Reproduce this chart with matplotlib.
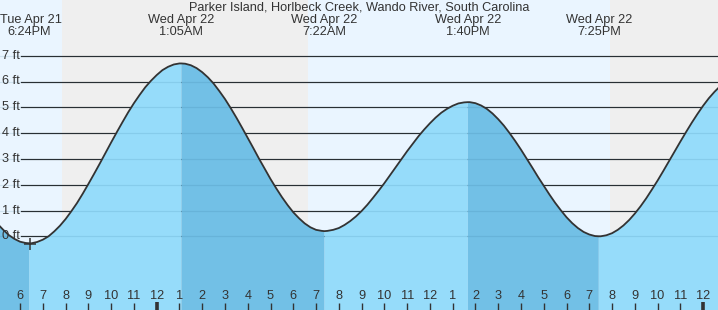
import matplotlib
matplotlib.use("Agg")
import matplotlib.pyplot as plt
import numpy as np

##~~~~~~~~~~~~~~~~~~~~~~~~~~~~~~~~~~~~~~~~~~~~~~~##
#                     DATA                        #
##~~~~~~~~~~~~~~~~~~~~~~~~~~~~~~~~~~~~~~~~~~~~~~~##

title = "Parker Island, Horlbeck Creek, Wando River, South Carolina"

# readings every 15 min, hours counted from Wed Apr 22 00:00 (-7.0 -> 25.0)
reading_times = np.arange(-7.0, 25.01, 0.25)
reading_ft = [
    0.49, 0.26, 0.05, -0.10, -0.21, -0.26, -0.27, -0.22,   # -7 .. -5
    -0.13, 0.00, 0.19, 0.41, 0.67, 0.97, 1.29, 1.65,       # -5 .. -3
    2.03, 2.42, 2.82, 3.23, 3.64, 4.04, 4.43, 4.81,        # -3 .. -1
    5.16, 5.48, 5.78, 6.03, 6.25, 6.44, 6.57, 6.66,        # -1 .. 1
    6.70, 6.69, 6.63, 6.52, 6.36, 6.16, 5.92, 5.63,        # 1 .. 3
    5.32, 4.97, 4.60, 4.21, 3.81, 3.41, 3.00, 2.61,        # 3 .. 5
    2.22, 1.86, 1.52, 1.21, 0.93, 0.70, 0.50, 0.35,        # 5 .. 7
    0.25, 0.21, 0.21, 0.25, 0.32, 0.44, 0.59, 0.77,        # 7 .. 9
    0.98, 1.22, 1.49, 1.77, 2.06, 2.37, 2.68, 2.99,        # 9 .. 11
    3.30, 3.59, 3.88, 4.14, 4.38, 4.60, 4.79, 4.94,        # 11 .. 13
    5.06, 5.15, 5.19, 5.20, 5.16, 5.07, 4.94, 4.76,        # 13 .. 15
    4.54, 4.29, 4.00, 3.69, 3.36, 3.01, 2.66, 2.30,        # 15 .. 17
    1.96, 1.62, 1.30, 1.01, 0.74, 0.51, 0.32, 0.17,        # 17 .. 19
    0.07, 0.01, 0.00, 0.04, 0.12, 0.25, 0.42, 0.63,        # 19 .. 21
    0.88, 1.16, 1.47, 1.81, 2.16, 2.53, 2.91, 3.29,        # 21 .. 23
    3.67, 4.04, 4.40, 4.74, 5.06, 5.35, 5.60, 5.82,        # 23 .. 25
    6.01,
]

# high / low tides
event_times = [-5.6, 1.083, 7.367, 13.667, 19.417]
event_heights = [-0.27, 6.7, 0.2, 5.2, 0.0]
event_days = ["Tue Apr 21", "Wed Apr 22", "Wed Apr 22", "Wed Apr 22", "Wed Apr 22"]
event_clock = ["6:24PM", "1:05AM", "7:22AM", "1:40PM", "7:25PM"]

# falling tide spans (high -> low)
falling = [(-11.92, -5.6), (1.083, 7.367), (13.667, 19.417)]

# night (sunset -> sunrise)
nights = [(-4.16, 6.63), (19.90, 30.0)]

ft_levels = [0, 1, 2, 3, 4, 5, 6, 7]
hour_ticks = list(range(-6, 25))

###~~~~~~~~~~~~~~~###
#       PLOT        #
###~~~~~~~~~~~~~~~###

plt.rcParams['font.family'] = ['Liberation Sans', 'DejaVu Sans']
txt = '#333333'
fs = 9.2

fig = plt.figure(figsize=(7.18, 3.10), dpi=100)
ax = fig.add_axes([0, 0, 1, 1])

pxh = 22.767                      # px per hour
x0 = -156.7 / pxh
x1 = (718 - 156.7) / pxh
pxf = 25.8                        # px per ft
y1 = 236.3 / pxf
y0 = (236.3 - 310) / pxf
ax.set_xlim(x0, x1)
ax.set_ylim(y0, y1)
ax.axis('off')

# day / night background
ax.axvspan(x0, x1, color='#EAF5FF', zorder=0)
for a, b in nights:
    ax.axvspan(a, b, color='#EFEFEF', zorder=0.5, lw=0)

# grid lines
for lv in ft_levels:
    ax.axhline(lv, xmin=21 / 718, xmax=1, color='#2a2a2a', lw=0.85, zorder=1)
    ax.text(19.5 / 718, lv, f"{lv} ft", transform=ax.get_yaxis_transform(),
            ha='right', va='center', fontsize=fs, color=txt, zorder=3.5)

# curve = readings + tide extremes, sorted by time
t = np.concatenate([reading_times, event_times])
h = np.concatenate([reading_ft, event_heights])
order = np.argsort(t, kind='stable')
t, h = t[order], h[order]

fall = np.zeros(len(t), dtype=bool)
for a, b in falling:
    fall |= (t >= a) & (t <= b)
rise = ~fall
for a, b in falling:
    rise |= np.isclose(t, a) | np.isclose(t, b)

ax.fill_between(t, h, y0, where=rise, color='#96DCFA', lw=0, zorder=2)
ax.fill_between(t, h, y0, where=fall, color='#72C0E6', lw=0, zorder=2)

# grid lines seen through the water
for lv in ft_levels:
    ax.axhline(lv, xmin=0, xmax=1, color='#1a5a80', alpha=0.12, lw=0.85, zorder=3)

ax.plot(t, h, color='#333333', lw=1.3, zorder=4, solid_joinstyle='round')

# marker at first low
ax.plot(event_times[0] + 0.05, event_heights[0] - 0.03, marker='+', ms=9, mew=1.1,
        color='#333333', zorder=5)

# title and tide labels
ax.text(0.5, 1 - 7.5 / 310, title, transform=ax.transAxes, ha='center', va='center',
        fontsize=fs, color=txt, zorder=6)
tr = ax.get_xaxis_transform()
labels = []
for et, d, c in zip(event_times, event_days, event_clock):
    labels.append(ax.text(et, 1 - 20 / 310, d, transform=tr, ha='center', va='center',
                          fontsize=fs, color=txt, zorder=6))
    labels.append(ax.text(et, 1 - 32 / 310, c, transform=tr, ha='center', va='center',
                          fontsize=fs, color=txt, zorder=6))

# keep the tide labels inside the picture
fig.canvas.draw()
rend = fig.canvas.get_renderer()
for lab in labels:
    bb = lab.get_window_extent(rend)
    if bb.x0 < 0:
        xd = ax.transData.inverted().transform((bb.width / 2 + 0.5, 0))[0]
        lab.set_x(xd)

# hour ticks along the bottom
for hr in hour_ticks:
    lab = (hr % 12) or 12
    ax.text(hr, 14 / 310, str(lab), transform=tr, ha='center', va='center',
            fontsize=fs, color=txt, zorder=6)
    if hr % 24 == 0:
        ax.plot([hr, hr], [0, 8.5 / 310], transform=tr, color='#333333', lw=2.6,
                solid_capstyle='butt', zorder=6)
    else:
        ax.plot([hr, hr], [0, 7.5 / 310], transform=tr, color='#333333', lw=1,
                solid_capstyle='butt', zorder=6)

fig.savefig('out.png', dpi=100)
